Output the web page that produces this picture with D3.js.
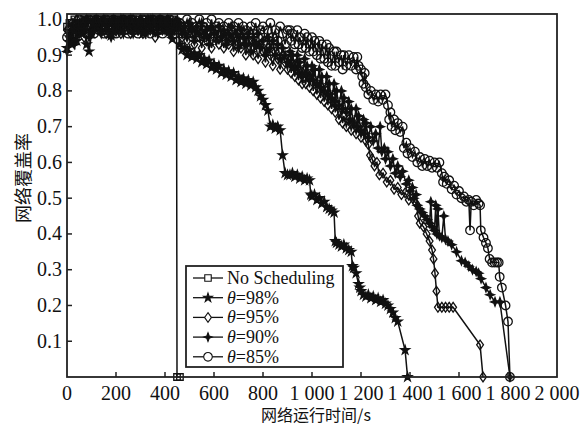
<!DOCTYPE html>
<html><head><meta charset="utf-8">
<script src="https://cdn.jsdelivr.net/npm/d3@7"></script>
<style>body{margin:0;background:#fff}svg{display:block}</style>
</head><body><svg id="c" width="588" height="425"></svg>
<script>
// ---- data ----
const xTicks = [0,200,400,600,800,1000,1200,1400,1600,1800,2000];
const xTickLabels = ["0","200","400","600","800","1 000","1 200","1 400","1 600","1 800","2 000"];
const yTicks = [0.1,0.2,0.3,0.4,0.5,0.6,0.7,0.8,0.9,1.0];
const yTickLabels = ["0.1","0.2","0.3","0.4","0.5","0.6","0.7","0.8","0.9","1.0"];
const seriesNames = ["No Scheduling","=98%","=95%","=90%","=85%"];

const tDense = [0,10,20,30,40,50,60,70,80,90,100,110,120,130,140,150,160,170,180,190,200,210,220,230,240,250,260,270,280,290,300,310,320,330,340,350,360,370,380,390,400,410,420,430,440,450,460,470,480,490,500,510,520,530,540,550,560,570,580,590,600,610,620,630,640,650,660,670,680,690,700,710,720,730,740,750,760,770,780,790,800,810,820,830,840,850,860,870,880,890,900];

// No Scheduling: t = 0..440
const vNoSched = [0.98,0.99,0.99,1.0,0.99,1.0,0.99,1.0,1.0,0.99,1.0,1.0,0.99,1.0,1.0,1.0,0.99,1.0,1.0,0.99,1.0,1.0,1.0,0.99,1.0,1.0,0.99,1.0,1.0,1.0,0.99,1.0,1.0,0.99,1.0,1.0,1.0,0.99,1.0,0.99,1.0,1.0,0.99,1.0,0.99];
const tailNoSched = [[447,0.99],[449,0],[461,0]];

const v98 = [0.92,0.95,0.93,0.97,0.94,0.98,0.96,0.97,0.93,0.91,0.96,0.99,0.98,0.99,0.97,0.99,0.98,0.97,0.955,0.965,0.99,0.98,1.0,0.99,0.98,0.99,1.0,0.98,0.99,0.98,0.99,0.96,0.965,0.99,0.98,1.0,0.99,0.98,0.99,0.99,0.98,0.99,0.97,0.945,0.99,0.98,
 0.93,0.915,0.92,0.90,0.915,0.895,0.905,0.89,0.9,0.88,0.89,0.875,0.885,0.865,0.875,0.86,0.87,0.85,0.86,0.845,0.855,0.84,0.85,0.83,0.84,0.825,0.835,0.82,0.83,0.815,0.825,0.81,0.80,0.785,0.775,0.76,0.745,0.70,0.705,0.695,0.70,0.69,0.62,0.57,0.565];
const tail98 = [[910,0.565],[920,0.57],[930,0.56],[940,0.565],[950,0.555],[960,0.56],[970,0.55],[980,0.555],[990,0.55],[995,0.51],[1000,0.505],[1010,0.51],[1020,0.495],[1030,0.50],[1040,0.485],[1050,0.49],[1060,0.475],[1070,0.47],[1080,0.465],[1090,0.46],[1095,0.38],[1100,0.375],[1110,0.37],[1120,0.365],[1130,0.37],[1140,0.36],[1150,0.355],[1160,0.35],[1165,0.31],[1170,0.305],[1180,0.29],[1190,0.26],[1195,0.25],[1200,0.24],[1210,0.23],[1220,0.225],[1230,0.23],[1240,0.22],[1250,0.225],[1260,0.215],[1270,0.22],[1280,0.21],[1290,0.215],[1300,0.205],[1310,0.20],[1320,0.19],[1330,0.18],[1340,0.165],[1350,0.155],[1380,0.075],[1390,0]];

const v95 = [0.97,0.95,0.99,0.96,1.0,0.97,0.99,0.95,1.0,0.98,0.96,0.99,1.0,0.97,0.99,1.0,0.96,0.99,0.98,1.0,0.97,0.99,0.96,1.0,0.98,0.99,0.96,1.0,0.98,0.97,1.0,0.96,0.99,1.0,0.97,0.99,0.95,0.99,1.0,0.97,0.98,1.0,0.96,0.99,0.97,0.99,
 0.98,0.95,0.97,0.94,0.98,0.96,0.93,0.97,0.95,0.92,0.97,0.94,0.96,0.92,0.95,0.97,0.93,0.96,0.92,0.95,0.93,0.96,0.91,0.94,0.96,0.92,0.94,0.90,0.94,0.92,0.90,0.93,0.89,0.93,0.91,0.88,0.92,0.90,0.87,0.91,0.89,0.86,0.90,0.88,0.86];
const tail95 = [[910,0.89],[915,0.85],[920,0.88],[930,0.84],[940,0.88],[945,0.83],[950,0.86],[960,0.82],[970,0.86],[975,0.82],[980,0.85],[990,0.81],[1000,0.85],[1005,0.80],[1010,0.83],[1020,0.79],[1030,0.83],[1035,0.78],[1040,0.81],[1050,0.77],[1060,0.80],[1065,0.76],[1070,0.79],[1080,0.75],[1090,0.78],[1095,0.74],[1100,0.76],[1110,0.72],[1120,0.75],[1125,0.71],[1130,0.73],[1140,0.70],[1150,0.72],[1160,0.69],[1170,0.71],[1180,0.68],[1190,0.70],[1200,0.67],[1210,0.69],[1220,0.66],[1230,0.65],[1237,0.62],[1245,0.61],[1255,0.59],[1265,0.60],[1275,0.565],[1290,0.57],[1305,0.545],[1320,0.55],[1335,0.525],[1350,0.53],[1365,0.51],[1380,0.515],[1395,0.495],[1410,0.50],[1425,0.485],[1433,0.45],[1440,0.43],[1455,0.42],[1468,0.40],[1480,0.38],[1490,0.355],[1496,0.33],[1502,0.29],[1508,0.24],[1514,0.195],[1530,0.195],[1545,0.195],[1560,0.195],[1576,0.195],[1686,0.09],[1698,0]];

const v90 = [0.91,0.94,0.97,0.93,0.98,0.96,0.99,0.97,1.0,0.95,0.99,0.97,1.0,0.98,0.96,1.0,0.97,0.99,0.95,1.0,0.98,0.97,1.0,0.96,0.99,0.98,1.0,0.96,0.99,0.97,1.0,0.98,0.96,0.99,1.0,0.97,0.99,0.96,1.0,0.98,0.97,1.0,0.96,0.99,0.98,1.0,
 0.99,0.96,0.98,0.95,0.99,0.97,0.94,0.98,0.96,0.99,0.95,0.97,0.93,0.98,0.96,0.94,0.98,0.95,0.97,0.93,0.96,0.98,0.94,0.96,0.92,0.97,0.95,0.93,0.96,0.91,0.95,0.93,0.96,0.92,0.94,0.90,0.95,0.92,0.94,0.90,0.93,0.89,0.92,0.90,0.88];
const tail90 = [[910,0.91],[915,0.87],[920,0.90],[930,0.86],[940,0.90],[945,0.85],[950,0.88],[960,0.84],[970,0.89],[975,0.85],[980,0.87],[990,0.83],[1000,0.87],[1005,0.83],[1010,0.86],[1020,0.82],[1030,0.86],[1035,0.81],[1040,0.84],[1050,0.80],[1060,0.84],[1065,0.79],[1070,0.82],[1080,0.78],[1090,0.82],[1095,0.77],[1100,0.80],[1110,0.76],[1120,0.80],[1125,0.75],[1130,0.78],[1140,0.74],[1150,0.77],[1155,0.72],[1160,0.75],[1170,0.71],[1180,0.75],[1185,0.70],[1190,0.73],[1200,0.69],[1210,0.72],[1215,0.68],[1220,0.71],[1230,0.67],[1240,0.70],[1250,0.66],[1260,0.68],[1270,0.64],[1278,0.70],[1285,0.63],[1295,0.64],[1300,0.61],[1310,0.63],[1320,0.59],[1330,0.61],[1340,0.57],[1350,0.59],[1360,0.56],[1370,0.575],[1385,0.54],[1395,0.55],[1400,0.52],[1410,0.53],[1415,0.50],[1425,0.51],[1430,0.48],[1440,0.47],[1450,0.46],[1460,0.45],[1470,0.44],[1480,0.43],[1485,0.49],[1490,0.42],[1500,0.41],[1505,0.48],[1510,0.40],[1514,0.47],[1520,0.395],[1530,0.39],[1538,0.45],[1545,0.385],[1555,0.38],[1570,0.37],[1590,0.35],[1610,0.325],[1625,0.32],[1640,0.31],[1655,0.30],[1670,0.295],[1680,0.29],[1690,0.275],[1710,0.25],[1727,0.23],[1747,0.21],[1767,0.21],[1808,0]];

const v85 = [0.95,0.97,0.94,0.98,0.96,1.0,0.97,0.99,0.96,1.0,0.98,0.96,1.0,0.97,0.99,0.96,1.0,0.98,0.97,1.0,0.96,0.99,0.97,1.0,0.98,0.96,1.0,0.97,0.99,0.96,0.98,1.0,0.97,0.99,0.96,1.0,0.98,0.97,1.0,0.96,0.99,0.97,1.0,0.98,0.96,0.99,
 0.99,0.96,0.98,1.0,0.97,0.99,0.96,0.98,1.0,0.97,0.95,0.99,0.97,1.0,0.96,0.98,0.99,0.96,0.98,0.95,0.99,0.97,0.98,0.95,0.99,0.96,0.98,0.97,0.94,0.98,0.96,0.99,0.95,0.97,0.98,0.94,0.97,0.99,0.95,0.97,0.94,0.98,0.96,0.93,0.97];
const tail85 = [[910,0.97],[915,0.94],[920,0.96],[930,0.93],[940,0.97],[945,0.93],[950,0.95],[960,0.92],[970,0.96],[975,0.92],[980,0.95],[990,0.91],[1000,0.95],[1005,0.91],[1010,0.94],[1020,0.90],[1030,0.94],[1035,0.89],[1040,0.93],[1050,0.89],[1060,0.93],[1065,0.88],[1070,0.92],[1080,0.87],[1090,0.91],[1095,0.87],[1100,0.91],[1110,0.88],[1120,0.90],[1125,0.86],[1130,0.90],[1140,0.87],[1150,0.90],[1160,0.87],[1170,0.895],[1180,0.86],[1185,0.895],[1190,0.87],[1200,0.86],[1205,0.84],[1210,0.82],[1215,0.85],[1220,0.81],[1230,0.79],[1240,0.80],[1250,0.775],[1260,0.79],[1270,0.77],[1280,0.79],[1290,0.775],[1300,0.79],[1310,0.76],[1315,0.72],[1320,0.74],[1325,0.70],[1335,0.72],[1340,0.69],[1350,0.71],[1360,0.685],[1370,0.70],[1375,0.64],[1385,0.655],[1390,0.625],[1400,0.64],[1410,0.615],[1420,0.63],[1430,0.60],[1440,0.615],[1450,0.59],[1460,0.61],[1470,0.59],[1480,0.605],[1490,0.585],[1500,0.60],[1510,0.585],[1520,0.60],[1530,0.57],[1535,0.545],[1540,0.56],[1550,0.54],[1560,0.55],[1570,0.525],[1580,0.535],[1590,0.51],[1600,0.52],[1610,0.50],[1620,0.505],[1630,0.49],[1640,0.495],[1645,0.41],[1650,0.49],[1660,0.48],[1670,0.495],[1680,0.485],[1686,0.48],[1689,0.41],[1700,0.39],[1710,0.375],[1718,0.36],[1725,0.33],[1735,0.32],[1745,0.32],[1755,0.32],[1762,0.32],[1766,0.28],[1775,0.25],[1790,0.20],[1800,0.155],[1808,0]];

// ---- build ----
function build(vals, tail){
  return vals.map((v,i)=>[tDense[i], v]).concat(tail);
}
const series = [
  {key:"ns",  pts: build(vNoSched, tailNoSched)},
  {key:"s98", pts: build(v98, tail98)},
  {key:"s95", pts: build(v95, tail95)},
  {key:"s90", pts: build(v90, tail90)},
  {key:"s85", pts: build(v85, tail85)}
];

const svg = d3.select("#c");
const L=67, R=557, T=14, B=377;
const x = d3.scaleLinear().domain([0,2000]).range([L,R]);
const y = d3.scaleLinear().domain([0,1.015]).range([B,T]);
const ink = "#111";
const serif = "'Liberation Serif','Times New Roman',serif";

const markers = {
  ns:  {path: d3.symbol(d3.symbolSquare, 42)(), fill:"none"},
  s98: {path: d3.symbol(d3.symbolStar, 24)(), fill:ink},
  s95: {path: "M0,-4.8L3.4,0L0,4.8L-3.4,0Z", fill:"none"},
  s90: {path: "M0,-4.3L1.2,-1.2L4.3,0L1.2,1.2L0,4.3L-1.2,1.2L-4.3,0L-1.2,-1.2Z", fill:ink},
  s85: {path: d3.symbol(d3.symbolCircle, 58)(), fill:"none"}
};

const line = d3.line().x(d=>x(d[0])).y(d=>y(d[1]));
const plot = svg.append("g");
const order = ["s85","s95","s90","s98","ns"];
order.forEach(k=>{
  const s = series.find(q=>q.key===k);
  const g = plot.append("g");
  g.append("path").attr("d", line(s.pts)).attr("fill","none").attr("stroke",ink).attr("stroke-width",1.5);
  g.selectAll("path.m").data(s.pts).enter().append("path").attr("class","m")
    .attr("transform", d=>`translate(${x(d[0])},${y(d[1])})`)
    .attr("d", markers[k].path).attr("fill", markers[k].fill)
    .attr("stroke", ink).attr("stroke-width", 1.3);
});

// frame
svg.append("rect").attr("x",L).attr("y",T).attr("width",R-L).attr("height",B-T)
  .attr("fill","none").attr("stroke","#222").attr("stroke-width",1.8);

// x ticks
const xa = svg.append("g");
xTicks.forEach((t,i)=>{
  if(t>0 && t<2000) xa.append("line").attr("x1",x(t)).attr("x2",x(t)).attr("y1",B).attr("y2",B-5).attr("stroke","#222").attr("stroke-width",1.5);
  xa.append("text").attr("x",x(t)).attr("y",400).attr("text-anchor","middle")
    .attr("font-family",serif).attr("font-size",20).attr("fill",ink).text(xTickLabels[i]);
});
// y ticks
const ya = svg.append("g");
yTicks.forEach((t,i)=>{
  if(t<1.0) ya.append("line").attr("x1",L).attr("x2",L+5).attr("y1",y(t)).attr("y2",y(t)).attr("stroke","#222").attr("stroke-width",1.5);
  ya.append("text").attr("x",62).attr("y",y(t)+6.5).attr("text-anchor","end")
    .attr("font-family",serif).attr("font-size",20).attr("fill",ink).text(yTickLabels[i]);
});

// axis titles
svg.append("text").attr("x",316).attr("y",421).attr("text-anchor","middle")
  .attr("font-family","'Noto Sans CJK SC',sans-serif").attr("font-size",16).attr("fill",ink)
  .text("网络运行时间/s");
svg.append("text").attr("transform","translate(22,178) rotate(-90)").attr("text-anchor","middle")
  .attr("dominant-baseline","central")
  .attr("font-family","'Noto Sans CJK SC',sans-serif").attr("font-size",18).attr("fill",ink)
  .text("网络覆盖率");

// legend
const lg = svg.append("g");
lg.append("rect").attr("x",186).attr("y",266).attr("width",157).attr("height",101)
  .attr("fill","#fff").attr("stroke","#222").attr("stroke-width",1.8);
const legKeys = ["ns","s98","s95","s90","s85"];
legKeys.forEach((k,i)=>{
  const cy = 278 + i*19.7;
  lg.append("line").attr("x1",193).attr("x2",223).attr("y1",cy).attr("y2",cy).attr("stroke",ink).attr("stroke-width",1.3);
  lg.append("path").attr("transform",`translate(208,${cy})`).attr("d",markers[k].path)
    .attr("fill", markers[k].fill==="none" ? "#fff" : ink).attr("stroke",ink).attr("stroke-width",1.1);
  const tx = lg.append("text").attr("x",227).attr("y",cy+6).attr("font-family",serif).attr("font-size",18).attr("fill",ink);
  if(i===0){ tx.text(seriesNames[0]); }
  else { tx.append("tspan").attr("font-style","italic").text("θ"); tx.append("tspan").text(seriesNames[i]); }
});
</script></body></html>
